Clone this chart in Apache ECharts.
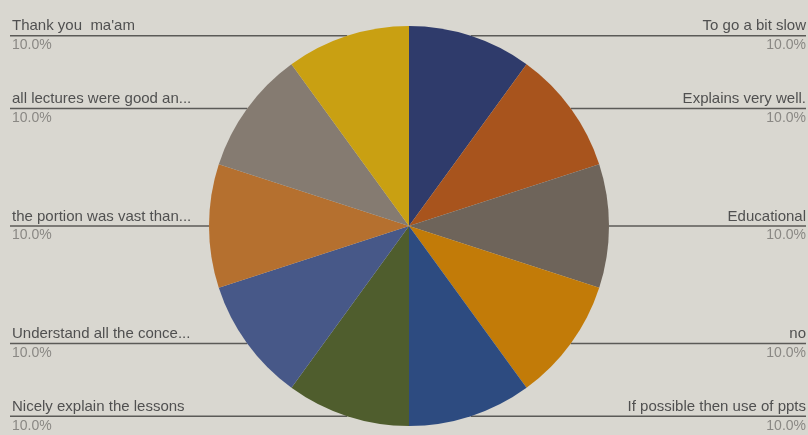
<!DOCTYPE html>
<html>
<head>
<meta charset="utf-8">
<script src="https://cdn.jsdelivr.net/npm/echarts@6/dist/echarts.min.js"></script>
<style>
html,body{margin:0;padding:0;background:#d9d7d0;}
#c{width:808px;height:435px;}
</style>
</head>
<body>
<div id="c"></div>
<script>
const categories = ["To go a bit slow", "Explains very well.", "Educational", "no", "If possible then use of ppts", "Nicely explain the lessons", "Understand all the conce...", "the portion was vast than...", "all lectures were good an...", "Thank you  ma'am"];
const values = [1, 1, 1, 1, 1, 1, 1, 1, 1, 1];
const colors = ["#2f3b6b", "#a8541d", "#6e645a", "#c27b08", "#2d4b80", "#4f5d2d", "#475888", "#b5702f", "#857b71", "#c9a012"];

const CX = 409, CY = 226, R = 200;
const chart = echarts.init(document.getElementById('c'), null, {renderer: 'canvas'});
chart.setOption({
  backgroundColor: '#d9d7d0',
  animation: false,
  series: [{
    type: 'pie',
    center: [CX, CY],
    radius: R,
    startAngle: 90,
    clockwise: true,
    data: categories.map((n, i) => ({name: n, value: values[i], itemStyle: {color: colors[i]}})),
    label: {
      show: true,
      position: 'outside',
      formatter: function (p) {
        const s = p.dataIndex < 5 ? 'r' : 'l';
        return '{n' + s + '|' + p.name + '}\n{p' + s + '|' + p.percent.toFixed(1) + '%}';
      },
      rich: {
        nl: {fontFamily: 'Liberation Sans', fontSize: 15, color: '#505050', lineHeight: 19, align: 'left', padding: [0, 0, 0, 2]},
        pl: {fontFamily: 'Liberation Sans', fontSize: 14, color: '#8a8884', lineHeight: 19, align: 'left', padding: [0, 0, 0, 2]},
        nr: {fontFamily: 'Liberation Sans', fontSize: 15, color: '#505050', lineHeight: 19, align: 'right'},
        pr: {fontFamily: 'Liberation Sans', fontSize: 14, color: '#8a8884', lineHeight: 19, align: 'right'}
      }
    },
    labelLine: {show: true, length: 0, length2: 0, smooth: false, lineStyle: {color: '#5b5a57', width: 1.5}},
    labelLayout: function (params) {
      let p0;
      if (params.labelLinePoints && params.labelLinePoints[0]) {
        p0 = params.labelLinePoints[0];
      } else {
        const a = (90 - 36 * params.dataIndex - 18) * Math.PI / 180;
        p0 = [CX + R * Math.cos(a), CY - R * Math.sin(a)];
      }
      const right = params.dataIndex < 5;
      const ex = right ? 806 : 10;
      return {
        x: ex,
        y: p0[1],
        align: right ? 'right' : 'left',
        verticalAlign: 'middle',
        labelLinePoints: [[p0[0], p0[1]], [p0[0], p0[1]], [ex, p0[1]]]
      };
    }
  }]
});
</script>
</body>
</html>
